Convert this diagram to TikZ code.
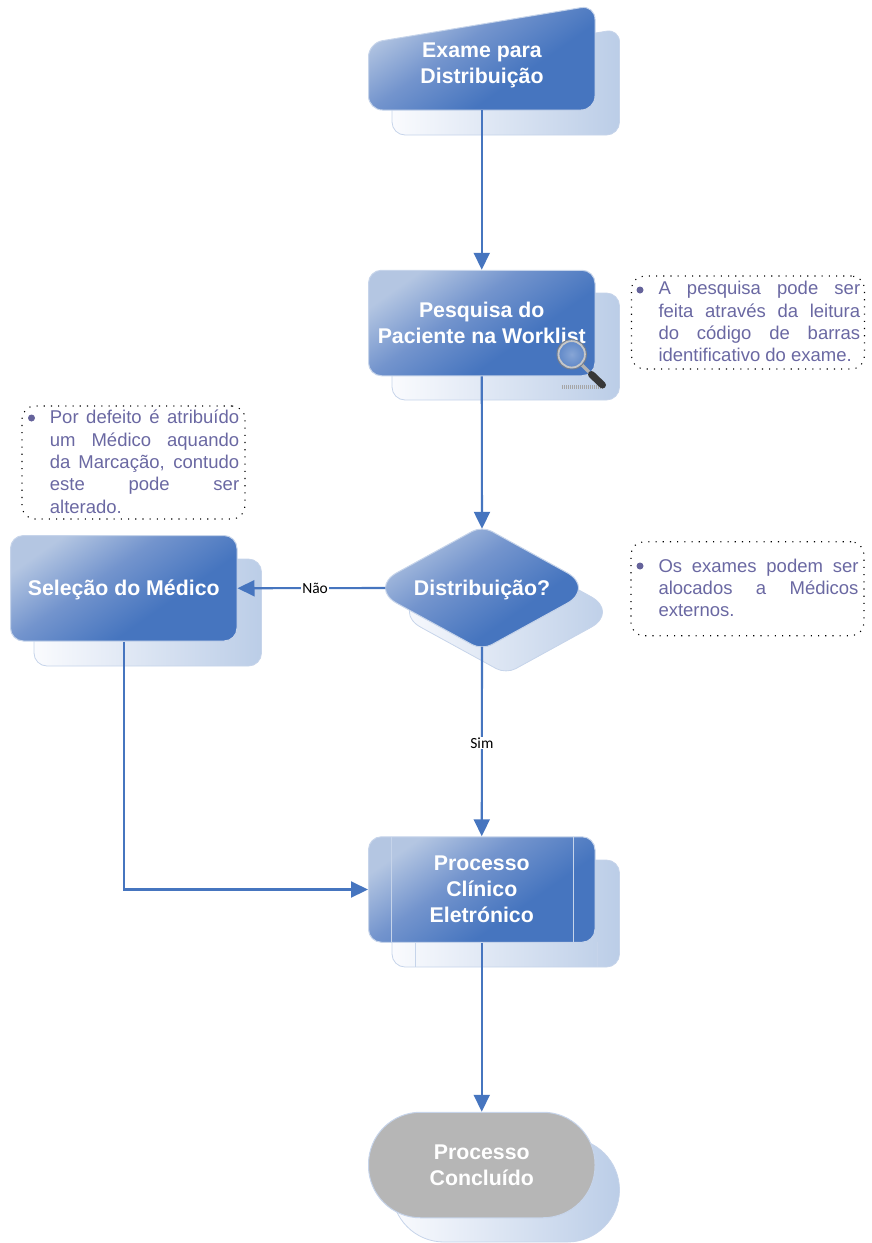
\documentclass[tikz,border=0pt]{standalone}
\usepackage{fontspec}
\setmainfont{Liberation Sans}
\newfontfamily\labelfont{Carlito}
\usetikzlibrary{arrows.meta}
\definecolor{flowblue}{HTML}{4675BF}
\definecolor{flowmid}{HTML}{7394CD}
\definecolor{flowlight}{HTML}{B4C6E2}
\definecolor{edgeblue}{HTML}{C6D4EA}
\definecolor{shadeleft}{HTML}{FAFBFE}
\definecolor{shaderight}{HTML}{BBCDE7}
\definecolor{notetext}{HTML}{6A68A2}
\definecolor{notebullet}{HTML}{65639B}
\definecolor{endgray}{HTML}{B6B6B6}
\pgfdeclareverticalshading{flowdiag}{100bp}{color(0bp)=(flowblue); color(38bp)=(flowblue); color(57bp)=(flowmid); color(75bp)=(flowlight); color(100bp)=(flowlight)}
\tikzset{
  px/.style={x=1pt,y=-1pt},
  shadowfill/.style={left color=shadeleft,right color=shaderight,draw=edgeblue,line width=0.8pt},
  mainfill/.style={shading=flowdiag,shading angle=35,draw=edgeblue,line width=1pt},
  flowbox/.style={mainfill,rounded corners=13pt,minimum width=226.5pt,inner sep=0pt,text=white,font=\bfseries\fontsize{21.3}{25.8}\selectfont,align=center},
  hitbox/.style={inner sep=0pt,text=white,font=\bfseries\fontsize{21.3}{25.6}\selectfont,align=center},
  oneline/.style={text height=15pt,text depth=0pt},
  conn/.style={draw=flowblue,line width=2.1pt,-{Triangle[length=17pt,width=16pt]}},
  edgelabel/.style={fill=white,inner sep=1pt,text=black,font=\labelfont\fontsize{15.5}{17}\selectfont},
  notebox/.style={draw=black,line width=1.1pt,dash pattern=on 1.1pt off 6.1pt,rounded corners=13pt,inner sep=0pt},
  notetxt/.style={inner sep=0pt,text=notetext,font=\fontsize{18.5}{22.3}\selectfont,anchor=north west,align=left},
  bulletdot/.style={circle,fill=notebullet,minimum size=7pt,inner sep=0pt},
}
\newcommand{\jline}[2]{\makebox[#1][s]{#2}}
\begin{document}
\begin{tikzpicture}[px]
\useasboundingbox (0,0) rectangle (871,1243);
% shadows
\path[shadowfill,rounded corners=13pt] (500,135) -- (392,135) -- (392,67) -- (619.5,29) -- (619.5,135) -- cycle;
\path[shadowfill,rounded corners=13pt] (392,293) rectangle (619.5,400);
\path[shadowfill,rounded corners=13pt] (34,559) rectangle (261.5,666);
\path[shadowfill] (449.5,581) [rounded corners=11pt] -- (506,550) [rounded corners=32pt] -- (619,612) [rounded corners=11pt] -- (506,674) [rounded corners=32pt] -- (393,612) [sharp corners] -- cycle;
\path[shadowfill,rounded corners=13pt] (392,860) rectangle (619.5,967);
\draw[edgeblue,line width=0.8pt] (415.5,942) -- (415.5,966.5);
\draw[edgeblue,line width=0.5pt] (597,942) -- (597,966.5);
\path[shadowfill,rounded corners=52pt] (392,1138) rectangle (619.5,1242);
% main shapes
\path[mainfill,rounded corners=14pt] (480,110) -- (368.5,110) -- (368.5,43) -- (595,5.3) -- (595,110) -- cycle;
\node[hitbox,minimum width=226.5pt,minimum height=102.5pt] (exame) at (481.75,58.75) {};
\node[hitbox] (exametxt) at (482,65.5) {Exame para\\Distribuição};
\node[flowbox,minimum height=105.5pt] (pesquisa) at (481.75,323) {Pesquisa do\\Paciente na Worklist};
\node[flowbox,oneline,minimum height=105.5pt] (selecao) at (123.75,588.25) {Seleção do Médico};
\path[mainfill] (425.5,557) [rounded corners=11pt] -- (482,526) [rounded corners=32pt] -- (595,588) [rounded corners=11pt] -- (482,650) [rounded corners=32pt] -- (369,588) [sharp corners] -- cycle;
\node[hitbox,oneline,minimum width=193pt,minimum height=118pt] (distrib) at (482,588) {Distribuição?};
\node[flowbox,minimum height=105.5pt] (processo) at (481.75,889.5) {Processo\\Clínico\\Eletrónico};
\draw[edgeblue,line width=0.8pt] (391.5,837) -- (391.5,942);
\draw[edgeblue,line width=0.8pt] (573,837) -- (573,942);
\node[draw=edgeblue,fill=endgray,line width=1pt,rounded corners=52pt,minimum width=226.5pt,minimum height=105.5pt,inner sep=0pt,text=white,font=\bfseries\fontsize{21.3}{25.6}\selectfont,align=center] (fim) at (481.75,1165) {Processo\\Concluído};
% magnifier
\draw[gray!70,line width=3.5pt,dash pattern=on 1pt off 1pt] (562,387) -- (604,387);
\draw[black!30,line width=3.2pt] (581,364) -- (589,372);
\draw[black!78,line width=7pt,line cap=round] (591.5,374.5) -- (602.5,385);
\node[circle,draw=black!50,line width=0.8pt,minimum size=29.5pt,inner sep=0pt,inner color=flowblue!65!white,outer color=flowblue!88!white] (lens) at (571.7,354.3) {};
\draw[black!22,line width=1.8pt] (lens) circle (13.2pt);
% connectors
\draw[conn] (exame.south) -- (pesquisa.north);
\draw[conn] (pesquisa.south) -- (distrib.north);
\draw[conn] (distrib.west) -- node[edgelabel,pos=0.475] (nao) {Não} (selecao.east);
\draw[conn] (distrib.south) -- node[edgelabel,pos=0.507] (sim) {Sim} (processo.north);
\draw[conn] (selecao.south) |- (processo.west);
\draw[conn] (processo.south) -- (fim.north);
% notes
\node[notebox,minimum width=233pt,minimum height=93pt] (note1) at (748,322.5) {};
\node[bulletdot] (b1) at (640,290) {};
\node[notetxt] (t1) at (658.3,281.2) {\jline{201.7pt}{A pesquisa pode ser}\\\jline{201.7pt}{feita através da leitura}\\\jline{201.7pt}{do código de barras}\\identificativo do exame.};
\node[notebox,minimum width=223pt,minimum height=113pt] (note2) at (133.5,462.5) {};
\node[bulletdot] (b2) at (31.5,418) {};
\node[notetxt] (t2) at (49.7,410) {\jline{189.3pt}{Por defeito é atribuído}\\\jline{189.3pt}{um Médico aquando}\\\jline{189.3pt}{da Marcação, contudo}\\\jline{189.3pt}{este pode ser}\\alterado.};
\node[notebox,minimum width=233pt,minimum height=94pt] (note3) at (747.5,588.7) {};
\node[bulletdot] (b3) at (640,566) {};
\node[notetxt] (t3) at (658.3,558.7) {\jline{200pt}{Os exames podem ser}\\\jline{200pt}{alocados a Médicos}\\externos.};
\end{tikzpicture}
\end{document}
